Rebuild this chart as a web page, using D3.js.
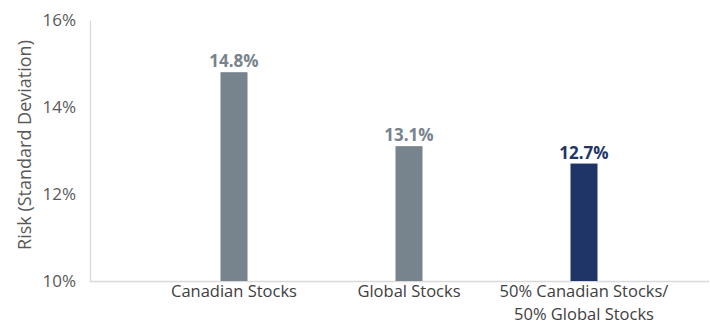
<!DOCTYPE html>
<html>
<head>
<meta charset="utf-8">
<script src="https://cdn.jsdelivr.net/npm/d3@7"></script>
<style>
  body { margin: 0; background: #fff; }
  text { font-family: "Open Sans", "Noto Sans", sans-serif; }
</style>
</head>
<body>
<svg id="chart" width="710" height="325"></svg>
<script>
// data
var categories = ["Canadian Stocks", "Global Stocks", "50% Canadian Stocks/\n50% Global Stocks"];
var risk = [14.8, 13.1, 12.7];
var barColors = ["#77838d", "#77838d", "#1f3568"];
var yTicks = [10, 12, 14, 16];

var svg = d3.select("#chart");
var plotLeft = 90, plotRight = 709, plotTop = 20, plotBottom = 281;

var y = d3.scaleLinear().domain([10, 16]).range([plotBottom, plotTop]);
var x = d3.scaleBand().domain(categories).range([146.5, 671.5]).paddingInner(0).paddingOuter(0);
var barW = 27;

// y axis
var yAxis = svg.append("g")
    .attr("transform", "translate(" + plotLeft + ",0)")
    .call(d3.axisLeft(y).tickValues(yTicks).tickSize(0).tickPadding(14)
        .tickFormat(function (d) { return d + "%"; }));
yAxis.select(".domain").attr("stroke", "#d9d9d9").attr("stroke-width", 1.3);
yAxis.selectAll("text").attr("font-size", 17).attr("fill", "#595959");

// baseline
svg.append("line")
    .attr("x1", plotLeft).attr("x2", plotRight)
    .attr("y1", plotBottom + 0.5).attr("y2", plotBottom + 0.5)
    .attr("stroke", "#d9d9d9").attr("stroke-width", 1.3);

// bars
svg.selectAll("rect.bar").data(risk).enter().append("rect")
    .attr("class", "bar")
    .attr("x", function (d, i) { return x(categories[i]) + x.bandwidth() / 2 - barW / 2; })
    .attr("y", function (d) { return y(d); })
    .attr("width", barW)
    .attr("height", function (d) { return plotBottom - y(d); })
    .attr("fill", function (d, i) { return barColors[i]; });

// value labels
svg.selectAll("text.val").data(risk).enter().append("text")
    .attr("class", "val")
    .attr("x", function (d, i) { return x(categories[i]) + x.bandwidth() / 2; })
    .attr("y", function (d) { return y(d) - 5; })
    .attr("text-anchor", "middle")
    .attr("font-size", 17)
    .attr("font-weight", "bold")
    .attr("fill", function (d, i) { return barColors[i]; })
    .text(function (d) { return d.toFixed(1) + "%"; });

// category labels
var cat = svg.selectAll("text.cat").data(categories).enter().append("text")
    .attr("class", "cat")
    .attr("text-anchor", "middle")
    .attr("font-size", 16.5)
    .attr("fill", "#404040");
cat.each(function (d) {
    var t = d3.select(this);
    var cx = x(d) + x.bandwidth() / 2;
    d.split("\n").forEach(function (line, j) {
        t.append("tspan").attr("x", cx).attr("y", 297 + j * 23).text(line);
    });
});

// axis title
svg.append("text")
    .attr("transform", "translate(31,145) rotate(-90)")
    .attr("text-anchor", "middle")
    .attr("font-size", 18)
    .attr("fill", "#595959")
    .text("Risk (Standard Deviation)");
</script>
</body>
</html>
